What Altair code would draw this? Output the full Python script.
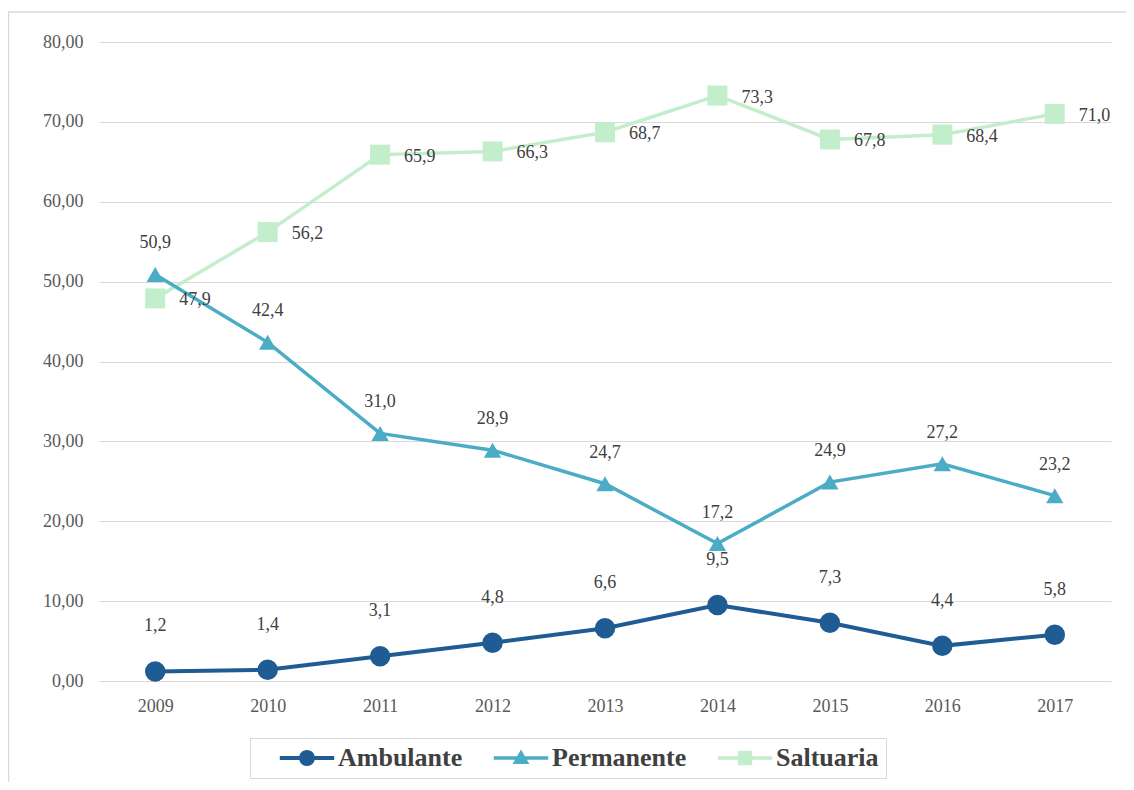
import altair as alt
import pandas as pd

years = ["2009", "2010", "2011", "2012", "2013", "2014", "2015", "2016", "2017"]
ambulante = [1.2, 1.4, 3.1, 4.8, 6.6, 9.5, 7.3, 4.4, 5.8]
permanente = [50.9, 42.4, 31.0, 28.9, 24.7, 17.2, 24.9, 27.2, 23.2]
saltuaria = [47.9, 56.2, 65.9, 66.3, 68.7, 73.3, 67.8, 68.4, 71.0]

series_names = ["Ambulante", "Permanente", "Saltuaria"]
series_values = [ambulante, permanente, saltuaria]
colors = ["#1F5C94", "#4BACC6", "#C3EECB"]
shapes = ["circle", "triangle-up", "square"]
sizes = [420, 300, 400]
widths = [4, 3.5, 3.5]

rows = []
for name, vals in zip(series_names, series_values):
    for y, v in zip(years, vals):
        rows.append({"year": y, "series": name, "value": v})
df = pd.DataFrame(rows)

FONT = "Liberation Serif"

x_enc = alt.X("year:O", scale=alt.Scale(type="point", padding=0.5, domain=years),
              axis=alt.Axis(title=None, labelAngle=0, ticks=False, domain=False,
                            labelPadding=16, labelFont=FONT, labelFontSize=18,
                            labelColor="#595959", grid=False))
y_enc = alt.Y("value:Q", scale=alt.Scale(domain=[0, 80], nice=False),
              axis=alt.Axis(title=None, values=list(range(0, 81, 10)), ticks=False,
                            domain=False, labelPadding=16, labelFont=FONT,
                            labelFontSize=18, labelColor="#595959",
                            gridColor="#D9D9D9", gridWidth=1.2,
                            labelExpr="replace(format(datum.value, '.2f'), '.', ',')"))

base = alt.Chart(df).encode(x=x_enc, y=y_enc)

layers = []
label_cfg = {
    "Ambulante": dict(dy=-45, dx=0, align="center"),
    "Permanente": dict(dy=-31, dx=0, align="center"),
    "Saltuaria": dict(dy=2, dx=24, align="left"),
}
order = [2, 1, 0]
for i in order:
    name = series_names[i]
    sub = base.transform_filter(alt.datum.series == name)
    layers.append(sub.mark_line(color=colors[i], strokeWidth=widths[i]))
for i in order:
    name = series_names[i]
    sub = base.transform_filter(alt.datum.series == name)
    layers.append(sub.mark_point(color=colors[i], shape=shapes[i], size=sizes[i],
                                 filled=True, opacity=1, strokeWidth=0))
for i in order:
    name = series_names[i]
    sub = base.transform_filter(alt.datum.series == name).transform_calculate(
        lbl="replace(format(datum.value, '.1f'), '.', ',')")
    cfg = label_cfg[name]
    layers.append(sub.mark_text(font=FONT, fontSize=18, color="#404040",
                                baseline="middle", **cfg).encode(text="lbl:N"))

# legend layer (no data rows; legend entries come from explicit domains)
legend_paths = [
    "M-3.4,-0.26H3.4V0.26H-3.4Z M1,0 A1,1 0 1,1 -1,0 A1,1 0 1,1 1,0 Z",
    "M-3.4,-0.22H3.4V0.22H-3.4Z M0,-1.05 L1.05,0.75 L-1.05,0.75 Z",
    "M-3.4,-0.22H3.4V0.22H-3.4Z M-0.9,-0.9 H0.9 V0.9 H-0.9 Z",
]
legend_layer = alt.Chart(df).transform_filter("false").mark_point(
    filled=True, opacity=1, size=256, strokeWidth=0
).encode(
    x=alt.X("year:O"),
    y=alt.Y("value:Q"),
    color=alt.Color("series:N", scale=alt.Scale(domain=series_names, range=colors),
                    legend=alt.Legend(title=None, orient="none", direction="horizontal",
                                      legendX=151, legendY=696,
                                      labelFont=FONT, labelFontSize=26,
                                      labelFontWeight="bold", labelColor="#404040",
                                      symbolSize=256, symbolOffset=37,
                                      labelOffset=18, columnPadding=8,
                                      padding=7, strokeColor="#D9D9D9",
                                      fillColor="white", symbolStrokeWidth=0,
                                      symbolOpacity=1)),
    shape=alt.Shape("series:N", scale=alt.Scale(domain=series_names, range=legend_paths)),
)
layers.append(legend_layer)

frame = alt.Chart(pd.DataFrame({"a": [0]})).mark_rect(
    fill=None, stroke="#D9D9D9", strokeWidth=1.5
).encode(x=alt.value(-90.5), x2=alt.value(1100), y=alt.value(-30), y2=alt.value(800))
layers.insert(0, frame)

chart = alt.layer(*layers).properties(
    width=1012, height=639,
    autosize=alt.AutoSizeParams(type="none"),
    padding={"left": 91, "top": 34, "right": 15, "bottom": 101},
).configure_view(stroke=None).configure_axis(grid=True)

chart.save("out.html", embed_options={"renderer": "svg", "actions": False})
